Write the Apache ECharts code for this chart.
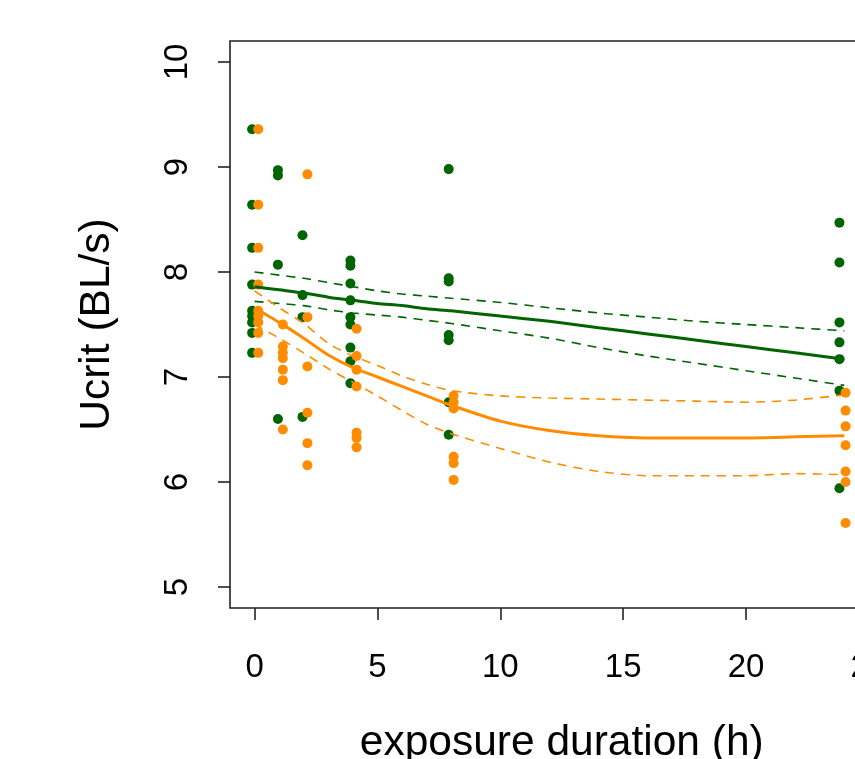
<!DOCTYPE html>
<html>
<head>
<meta charset="utf-8">
<script src="https://cdn.jsdelivr.net/npm/echarts@6/dist/echarts.min.js"></script>
<style>
html,body{margin:0;padding:0;background:#fff;}
#chart{width:855px;height:759px;}
</style>
</head>
<body>
<div id="chart"></div>
<script>
// ---- data ----
const xTicks = [0, 5, 10, 15, 20, 25];
const yTicks = [5, 6, 7, 8, 9, 10];

// green points: plotted time per group and values per group
const greenTimes = [-0.1, 0.95, 1.95, 3.9, 7.9, 23.8];
const greenValues = [
  [9.36, 8.64, 8.23, 7.88, 7.63, 7.58, 7.52, 7.42, 7.23],
  [8.97, 8.92, 8.07, 6.60],
  [8.35, 7.78, 7.57, 6.62],
  [8.11, 8.06, 7.89, 7.73, 7.57, 7.50, 7.28, 7.15, 6.94],
  [8.98, 7.94, 7.91, 7.40, 7.35, 6.76, 6.45],
  [8.47, 8.09, 7.52, 7.33, 7.17, 6.87, 5.94]
];

// orange points
const orangeTimes = [0.15, 1.15, 2.15, 4.15, 8.1, 24.05];
const orangeValues = [
  [9.36, 8.64, 8.23, 7.88, 7.63, 7.58, 7.52, 7.42, 7.23],
  [7.50, 7.29, 7.23, 7.18, 7.07, 6.97, 6.50],
  [8.93, 7.57, 7.10, 6.66, 6.37, 6.16],
  [7.46, 7.20, 7.07, 6.91, 6.47, 6.42, 6.33],
  [6.82, 6.76, 6.70, 6.24, 6.18, 6.02],
  [6.85, 6.68, 6.53, 6.35, 6.10, 6.00, 5.61]
];

// fitted curves and confidence bands (read at these times)
const fitTimes = [0, 1, 2, 3, 4, 5, 6, 7, 8, 10, 12, 14, 16, 18, 20, 22, 24];
const greenFit   = [7.86, 7.83, 7.80, 7.76, 7.73, 7.70, 7.68, 7.65, 7.63, 7.58, 7.53, 7.47, 7.41, 7.35, 7.29, 7.23, 7.17];
const greenUpper = [8.00, 7.97, 7.94, 7.90, 7.86, 7.82, 7.79, 7.77, 7.75, 7.71, 7.66, 7.61, 7.57, 7.53, 7.50, 7.47, 7.44];
const greenLower = [7.72, 7.70, 7.68, 7.64, 7.61, 7.59, 7.57, 7.54, 7.51, 7.44, 7.37, 7.28, 7.20, 7.13, 7.06, 6.99, 6.92];
const orangeFit   = [7.66, 7.52, 7.37, 7.21, 7.09, 7.00, 6.91, 6.82, 6.73, 6.58, 6.49, 6.44, 6.42, 6.42, 6.42, 6.43, 6.44];
const orangeUpper = [7.82, 7.66, 7.51, 7.32, 7.20, 7.11, 7.01, 6.93, 6.87, 6.82, 6.80, 6.79, 6.78, 6.77, 6.76, 6.78, 6.83];
const orangeLower = [7.50, 7.37, 7.23, 7.08, 6.95, 6.82, 6.68, 6.55, 6.46, 6.32, 6.19, 6.10, 6.06, 6.06, 6.06, 6.08, 6.07];

const xTitle = 'exposure duration (h)';
const yTitle = 'Ucrit (BL/s)';

// ---- build ----
const GREEN = '#006400';
const ORANGE = '#FF8C00';
const FONT = 'Liberation Sans, Arial, sans-serif';

function pointsOf(times, values) {
  const out = [];
  times.forEach((t, i) => values[i].forEach(v => out.push([t, v])));
  return out;
}
function curve(vals) { return fitTimes.map((t, i) => [t, vals[i]]); }

function lineSeries(vals, color, width, dashed) {
  return {
    type: 'line', data: curve(vals), symbol: 'none', smooth: 0.25,
    lineStyle: { color: color, width: width, type: dashed ? [9, 7] : 'solid', opacity: 1 },
    silent: true, z: 3
  };
}

const chart = echarts.init(document.getElementById('chart'), null, { renderer: 'canvas' });
chart.setOption({
  animation: false,
  backgroundColor: '#ffffff',
  grid: {
    left: 230, top: 41, width: 663.5, height: 567,
    outerBoundsMode: 'none', containLabel: false,
    show: true, borderColor: '#222', borderWidth: 1.6, backgroundColor: 'transparent'
  },
  xAxis: {
    type: 'value', min: -1, max: 26,
    splitLine: { show: false },
    axisLine: { show: false, onZero: false },
    axisTick: { show: true, customValues: xTicks, length: 12, lineStyle: { color: '#222', width: 1.6 } },
    axisLabel: { customValues: xTicks, margin: 43, fontSize: 33, color: '#000', fontFamily: FONT, formatter: v => String(v) },
    name: xTitle, nameLocation: 'middle', nameGap: 114,
    nameTextStyle: { fontSize: 42.5, color: '#000', fontFamily: FONT }
  },
  yAxis: {
    type: 'value', min: 4.8, max: 10.2,
    splitLine: { show: false },
    axisLine: { show: false, onZero: false },
    axisTick: { show: true, customValues: yTicks, length: 12, lineStyle: { color: '#222', width: 1.6 } },
    axisLabel: { customValues: yTicks, rotate: 90, margin: 36, fontSize: 33, color: '#000', fontFamily: FONT, formatter: v => String(v) },
    name: yTitle, nameLocation: 'middle', nameGap: 111, nameRotate: 90,
    nameTextStyle: { fontSize: 42.5, color: '#000', fontFamily: FONT }
  },
  series: [
    { type: 'scatter', data: pointsOf(greenTimes, greenValues), symbol: 'circle', symbolSize: 10, itemStyle: { color: GREEN, opacity: 1 }, z: 2 },
    { type: 'scatter', data: pointsOf(orangeTimes, orangeValues), symbol: 'circle', symbolSize: 10, itemStyle: { color: ORANGE, opacity: 1 }, z: 2 },
    lineSeries(greenFit, GREEN, 3, false),
    lineSeries(greenUpper, GREEN, 1.6, true),
    lineSeries(greenLower, GREEN, 1.6, true),
    lineSeries(orangeFit, ORANGE, 3, false),
    lineSeries(orangeUpper, ORANGE, 1.6, true),
    lineSeries(orangeLower, ORANGE, 1.6, true)
  ]
});
</script>
</body>
</html>
